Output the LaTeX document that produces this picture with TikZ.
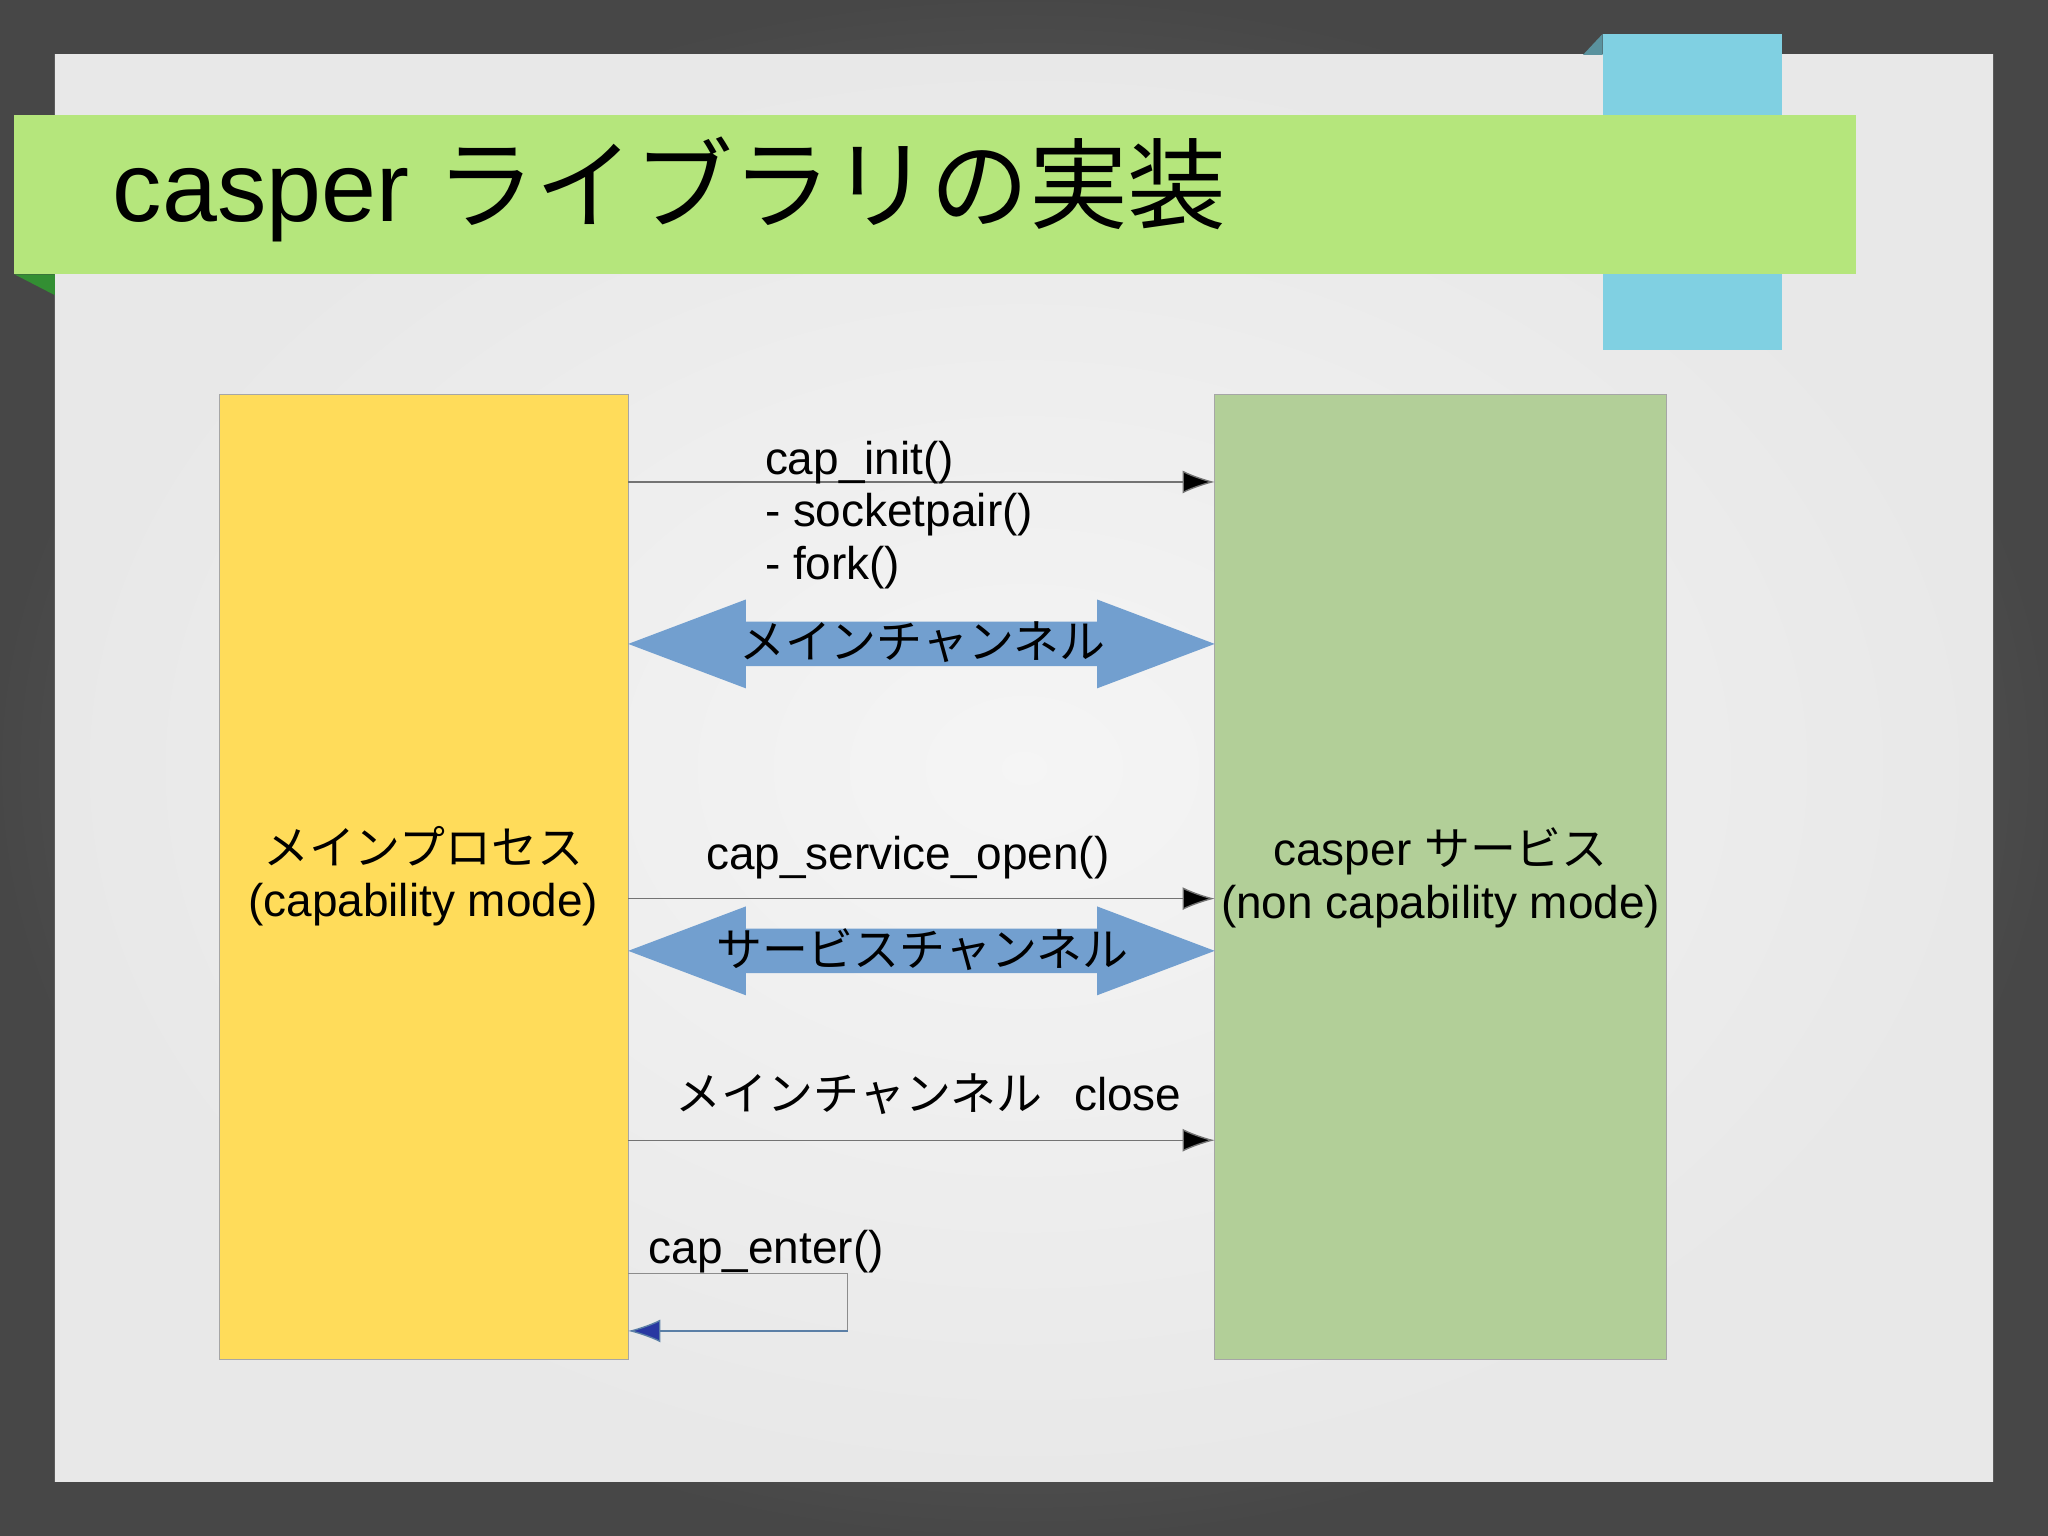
\documentclass[tikz,border=0pt]{standalone}
\usepackage{fontspec}
\setmainfont{Liberation Sans}
\newfontfamily\cjk{Noto Sans CJK JP}
\usetikzlibrary{arrows.meta}
\definecolor{bandgreen}{HTML}{B5E67C}
\definecolor{tabblue}{HTML}{80D0E2}
\definecolor{procyellow}{HTML}{FFDC5A}
\definecolor{svcgreen}{HTML}{B2CF98}
\definecolor{chanblue}{HTML}{729FCF}
\tikzset{
  body/.style={font=\fontsize{10}{11.4}\selectfont},
  jbody/.style={font=\cjk\fontsize{10}{11.4}\selectfont},
  msg/.style={draw=black!55, line width=0.3pt, -{Latex[length=7pt,width=5pt,fill=black]}},
}
\begin{document}
\begin{tikzpicture}[x=0.01cm,y=-0.01cm]
\useasboundingbox (0,0) rectangle (1568,1176);
\shade[inner color=black!50, outer color=black!72] (0,0) rectangle (1568,1176);
\shade[inner color=white!96!black, outer color=black!9, draw=none] (42,42) rectangle (1526,1134);
\fill[tabblue] (1227,26) rectangle (1364,268);
\fill[tabblue!70!black] (1212,42) -- (1227,26) -- (1227,42) -- cycle;
\fill[green!45!black!80] (11,210) -- (42,210) -- (42,226) -- cycle;
\fill[bandgreen] (11,88) rectangle (1421,210);
\node[anchor=west, font=\fontsize{21.5}{26}\selectfont] (title) at (74,145) {casper {\cjk ライブラリの実装}};

\fill[procyellow, draw=black!35, line width=0.3pt] (168,302) rectangle (481,1041);
\fill[svcgreen, draw=black!35, line width=0.3pt] (930,302) rectangle (1276,1041);
\node[body, align=center] (ptext) at (324,671) {{\cjk メインプロセス}\\(capability mode)};
\node[body, align=center] (stext) at (1103,672) {casper {\cjk サービス}\\(non capability mode)};

% cap_init
\coordinate (a1) at (481,369); \coordinate (b1) at (930,369);
\draw[msg] (a1) -- (b1);
\node[body, align=left, anchor=north west, inner sep=0] (l1) at (585,337) {cap\_init()\\- socketpair()\\- fork()};

% main channel double arrow
\fill[chanblue] (481,493) -- (571,459) -- (571,476) -- (840,476) -- (840,459) -- (930,493) -- (840,527) -- (840,510) -- (571,510) -- (571,527) -- cycle;
\node[jbody] (ch1) at (706,492) {メインチャンネル};

% service open
\coordinate (a2) at (481,688); \coordinate (b2) at (930,688);
\draw[msg] (a2) -- (b2);
\node[body] (l2) at (695,657) {cap\_service\_open()};
\fill[chanblue] (481,728) -- (571,694) -- (571,711) -- (840,711) -- (840,694) -- (930,728) -- (840,762) -- (840,745) -- (571,745) -- (571,762) -- cycle;
\node[jbody] (ch2) at (706,727) {サービスチャンネル};

% close
\coordinate (a3) at (481,873); \coordinate (b3) at (930,873);
\draw[msg] (a3) -- (b3);
\node[body] (l3) at (711,838) {{\cjk メインチャンネル}\hspace{0.7em}close};

% cap_enter
\coordinate (e1) at (481,975); \coordinate (e2) at (649,975);
\coordinate (e3) at (649,1019); \coordinate (e4) at (481,1019);
\draw[draw=black!45, line width=0.3pt] (e1) -- (e2) -- (e3);
\draw[draw=chanblue!80!black, line width=0.3pt, -{Latex[length=7pt,width=5pt,fill=chanblue!50!blue!70!black]}] (e3) -- (e4);
\node[body, anchor=west, inner sep=0] (l4) at (496,958) {cap\_enter()};
\end{tikzpicture}
\end{document}
